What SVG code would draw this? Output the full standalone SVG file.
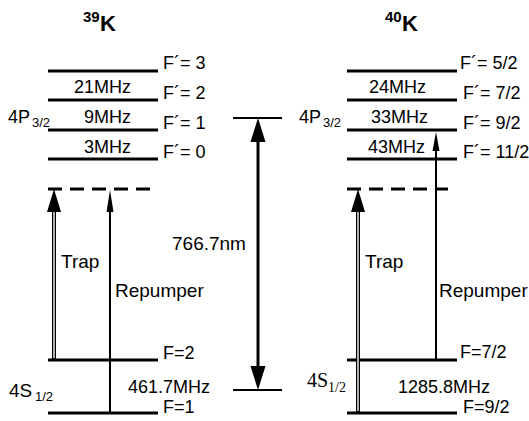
<svg xmlns="http://www.w3.org/2000/svg" width="529" height="421" viewBox="0 0 529 421">
<style>
.t{font-family:"Liberation Sans",Arial,sans-serif;font-size:18px;fill:#000}
.l{font-family:"Liberation Sans",Arial,sans-serif;font-size:19px;fill:#000}
.s{font-family:"Liberation Sans",Arial,sans-serif;font-size:13px;fill:#000}
.tm{font-family:"Liberation Serif","Times New Roman",serif;font-size:20px;fill:#000}
.tms{font-family:"Liberation Serif","Times New Roman",serif;font-size:14px;fill:#000}
.b{font-family:"Liberation Sans",Arial,sans-serif;font-weight:bold;fill:#000}
.lv{stroke:#000;stroke-width:3;fill:none}
.ds{stroke:#000;stroke-width:3;fill:none;stroke-dasharray:14 8}
.sh{stroke:#000;stroke-width:2;fill:none}
.trap{stroke:#000;stroke-width:4;fill:none}
.trapw{stroke:#fff;stroke-width:1.4;fill:none}
.bar{stroke:#000;stroke-width:2;fill:none}
</style>
<rect width="529" height="421" fill="#fff"/>

<g id="title39">
<text class="b" x="83" y="22" font-size="15">39</text>
<text class="b" x="100" y="31" font-size="22">K</text>
</g>
<g id="title40">
<text class="b" x="385" y="22" font-size="15">40</text>
<text class="b" x="402" y="31" font-size="22">K</text>
</g>

<g id="k39-excited">
<line class="lv" x1="48" y1="71" x2="158" y2="71"/>
<line class="lv" x1="48" y1="100" x2="158" y2="100"/>
<line class="lv" x1="48" y1="130" x2="158" y2="130"/>
<line class="lv" x1="48" y1="159" x2="158" y2="159"/>
<text class="t" x="163" y="69">F´= 3</text>
<text class="t" x="163" y="99">F´= 2</text>
<text class="t" x="163" y="129">F´= 1</text>
<text class="t" x="163" y="158">F´= 0</text>
<text class="t" x="74" y="93">21MHz</text>
<text class="t" x="84" y="123">9MHz</text>
<text class="t" x="84" y="153">3MHz</text>
<text class="t" x="8" y="123">4P</text>
<text class="s" x="32" y="127">3/2</text>
</g>
<g id="k39-virtual">
<line class="ds" x1="48" y1="189" x2="152" y2="189"/>
</g>
<g id="k39-ground">
<line class="lv" x1="48" y1="360" x2="158" y2="360"/>
<line class="lv" x1="48" y1="413" x2="158" y2="413"/>
<text class="t" x="163" y="359">F=2</text>
<text class="t" x="163" y="413">F=1</text>
<text class="t" x="128" y="393">461.7MHz</text>
<text class="l" x="9" y="397">4S</text>
<text class="s" x="35" y="401">1/2</text>
</g>

<g id="k40-excited">
<line class="lv" x1="347" y1="71" x2="457" y2="71"/>
<line class="lv" x1="347" y1="100" x2="457" y2="100"/>
<line class="lv" x1="347" y1="130" x2="457" y2="130"/>
<line class="lv" x1="347" y1="159" x2="457" y2="159"/>
<text class="t" x="460" y="69">F´= 5/2</text>
<text class="t" x="463" y="99">F´= 7/2</text>
<text class="t" x="463" y="129">F´= 9/2</text>
<text class="t" x="463" y="158">F´= 11/2</text>
<text class="t" x="369" y="93">24MHz</text>
<text class="t" x="371" y="123">33MHz</text>
<text class="t" x="368" y="153">43MHz</text>
<text class="t" x="299" y="123">4P</text>
<text class="s" x="323" y="127">3/2</text>
</g>
<g id="k40-virtual">
<line class="ds" x1="347" y1="189" x2="448" y2="189"/>
</g>
<g id="k40-ground">
<line class="lv" x1="347" y1="360" x2="457" y2="360"/>
<line class="lv" x1="347" y1="413" x2="457" y2="413"/>
<text class="t" x="460" y="358">F=7/2</text>
<text class="t" x="463" y="413">F=9/2</text>
<text class="t" x="398" y="393">1285.8MHz</text>
<text class="tm" x="307" y="387">4S</text>
<text class="tms" x="328" y="392">1/2</text>
</g>

<g id="wavelength">
<line class="bar" x1="233" y1="118" x2="282" y2="118"/>
<line class="bar" x1="233" y1="390" x2="282" y2="390"/>
<text class="l" x="172" y="250">766.7nm</text>
</g>

<g id="connectors">
<!-- 39K trap -->
<line class="trap" x1="54" y1="360" x2="54" y2="208"/>
<line class="trapw" x1="54" y1="358" x2="54" y2="208"/>
<polygon points="54,189 47,212 61,212" fill="#000"/>
<text class="l" x="61" y="268">Trap</text>
<!-- 39K repumper -->
<line class="sh" x1="110" y1="413" x2="110" y2="205"/>
<polygon points="110,190 106.5,212 113.5,212" fill="#000"/>
<text class="l" x="115" y="297">Repumper</text>
<!-- 40K trap -->
<line class="trap" x1="358" y1="413" x2="358" y2="208"/>
<line class="trapw" x1="358" y1="411" x2="358" y2="208"/>
<polygon points="358,189 351,212 365,212" fill="#000"/>
<text class="l" x="365" y="268">Trap</text>
<!-- 40K repumper -->
<line class="sh" x1="436" y1="360" x2="436" y2="145"/>
<polygon points="436,132 432.5,151 439.5,151" fill="#000"/>
<text class="l" x="439" y="297">Repumper</text>
<!-- 766.7nm -->
<line stroke="#000" stroke-width="3" x1="258" y1="138" x2="258" y2="370"/>
<polygon points="258,118 250.5,142 265.5,142" fill="#000"/>
<polygon points="258,390 250.5,366 265.5,366" fill="#000"/>
</g>
</svg>
